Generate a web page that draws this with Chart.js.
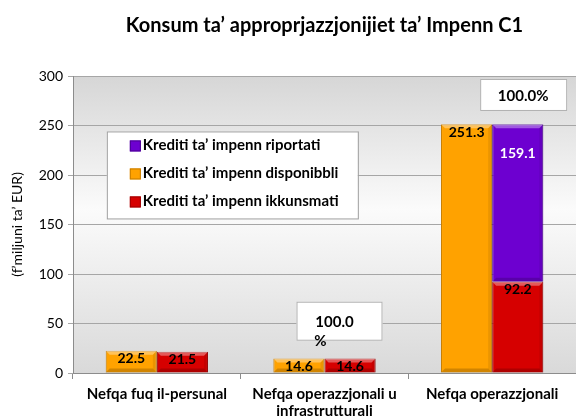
<!DOCTYPE html>
<html>
<head>
<meta charset="utf-8">
<script src="https://cdn.jsdelivr.net/npm/chart.js@4.4.1/dist/chart.umd.min.js"></script>
<style>
  html, body { margin: 0; padding: 0; background: #fff; }
  #wrap { width: 576px; height: 418px; }
</style>
</head>
<body>
<div id="wrap"><canvas id="myChart" width="576" height="418"></canvas></div>
<script>
var categories = ["Nefqa fuq il-persunal", ["Nefqa operazzjonali u", "infrastrutturali"], "Nefqa operazzjonali"]
var disponibbli = [22.5, 14.6, 251.3]
var ikkunsmati = [21.5, 14.6, 92.2]
var riportati = [0, 0, 159.1]
var yTicks = [0, 50, 100, 150, 200, 250, 300]
var notes = ["100.0%", "100.0%"]

var FONT = "Lato, 'Open Sans', sans-serif"

// plot background: grey at the edges, lighter in the middle
var plotBackground = {
	id: 'plotBackground',
	beforeDraw: function(chart) {
		var ctx = chart.ctx, a = chart.chartArea
		var g = ctx.createLinearGradient(0, a.top, 0, a.bottom)
		g.addColorStop(0, '#d6d6d6')
		g.addColorStop(0.45, '#fbfbfb')
		g.addColorStop(1, '#d9d9d9')
		ctx.save()
		ctx.fillStyle = g
		ctx.fillRect(a.left, a.top, a.right - a.left, a.bottom - a.top)
		ctx.restore()
	}
}

// bevel look on the bars + value labels at the top of each bar
var valueLabels = {
	id: 'valueLabels',
	afterDatasetsDraw: function(chart) {
		var ctx = chart.ctx
		ctx.save()
		chart.data.datasets.forEach(function(ds, i) {
			chart.getDatasetMeta(i).data.forEach(function(bar, j) {
				if (!ds.data[j]) return
				var l = bar.x - bar.width / 2, r = bar.x + bar.width / 2
				var t = Math.min(bar.y, bar.base), b = Math.max(bar.y, bar.base)
				var e = Math.min(4, (b - t) / 2)
				ctx.fillStyle = 'rgba(255,255,255,0.35)'
				ctx.beginPath(); ctx.moveTo(l, t); ctx.lineTo(r, t); ctx.lineTo(r - e, t + e); ctx.lineTo(l + e, t + e); ctx.closePath(); ctx.fill()
				ctx.fillStyle = 'rgba(0,0,0,0.18)'
				ctx.beginPath(); ctx.moveTo(l, b); ctx.lineTo(r, b); ctx.lineTo(r - e, b - e); ctx.lineTo(l + e, b - e); ctx.closePath(); ctx.fill()
				ctx.fillStyle = 'rgba(0,0,0,0.08)'
				ctx.beginPath(); ctx.moveTo(r, t); ctx.lineTo(r, b); ctx.lineTo(r - e, b - e); ctx.lineTo(r - e, t + e); ctx.closePath(); ctx.fill()
			})
		})
		ctx.font = "bold 14px " + FONT
		ctx.textAlign = 'center'
		ctx.textBaseline = 'middle'
		chart.data.datasets.forEach(function(ds, i) {
			if (!ds.showValues) return
			chart.getDatasetMeta(i).data.forEach(function(bar, j) {
				var v = ds.data[j]
				if (!v) return
				ctx.fillStyle = ds.valueColor
				ctx.fillText(v.toFixed(1), bar.x, bar.y + ds.valueOffset)
			})
		})
		ctx.restore()
	}
}

// legend box and the two note boxes inside the plot
var boxes = {
	id: 'boxes',
	afterDraw: function(chart) {
		var ctx = chart.ctx, x = chart.scales.x, y = chart.scales.y
		ctx.save()
		ctx.font = "bold 15px " + FONT
		ctx.textBaseline = 'middle'

		// legend
		var lx = x.getPixelForValue(0) - 50, ly = y.getPixelForValue(244)
		ctx.fillStyle = '#fff'
		ctx.fillRect(lx, ly, 251, 87)
		ctx.strokeStyle = '#a0a0a0'
		ctx.lineWidth = 1
		ctx.strokeRect(lx + 0.5, ly + 0.5, 251, 87)
		var order = [2, 0, 1]
		order.forEach(function(k, r) {
			var ds = chart.data.datasets[k]
			var ry = ly + 14 + r * 28
			ctx.fillStyle = ds.backgroundColor
			ctx.fillRect(lx + 23, ry - 5, 11, 11)
			ctx.strokeStyle = ds.borderColor
			ctx.strokeRect(lx + 23.5, ry - 4.5, 10, 10)
			ctx.fillStyle = '#000'
			ctx.textAlign = 'left'
			ctx.fillText(ds.label, lx + 36, ry)
		})

		// note boxes
		ctx.textAlign = 'center'
		ctx.strokeStyle = '#b0b0b0'
		var n1x = x.getPixelForValue(2) - 12, n1y = y.getPixelForValue(297)
		ctx.fillStyle = '#fff'
		ctx.fillRect(n1x, n1y, 87, 32)
		ctx.strokeRect(n1x + 0.5, n1y + 0.5, 86, 31)
		ctx.fillStyle = '#000'
		ctx.fillText(notes[0], n1x + 43, n1y + 17)

		var n2x = x.getPixelForValue(1) - 28, n2y = y.getPixelForValue(72)
		ctx.fillStyle = '#fff'
		ctx.fillRect(n2x, n2y, 86, 39)
		ctx.strokeRect(n2x + 0.5, n2y + 0.5, 85, 38)
		ctx.fillStyle = '#000'
		ctx.fillText(notes[1].slice(0, 5), n2x + 38, n2y + 20)
		ctx.fillText(notes[1].slice(5), n2x + 24, n2y + 39)
		ctx.restore()
	}
}

var canvasCtx = document.getElementById("myChart").getContext('2d')
var myChart = new Chart(canvasCtx, {
	type: 'bar',
	data: {
		labels: categories,
		datasets: [
			{label: "Krediti ta\u2019 impenn disponibbli", data: disponibbli, stack: 'a', backgroundColor: '#ffa200', borderColor: '#c77d00', borderWidth: 1, showValues: true, valueColor: '#000', valueOffset: 8},
			{label: "Krediti ta\u2019 impenn ikkunsmati", data: ikkunsmati, stack: 'b', backgroundColor: '#d60000', borderColor: '#9c0000', borderWidth: 1, showValues: true, valueColor: '#000', valueOffset: 8},
			{label: "Krediti ta\u2019 impenn riportati", data: riportati, stack: 'b', backgroundColor: '#6d00d0', borderColor: '#4a0090', borderWidth: 1, showValues: true, valueColor: '#fff', valueOffset: 29}
		]
	},
	options: {
		responsive: false,
		maintainAspectRatio: false,
		animation: false,
		layout: {padding: {left: 0, right: 0, top: 0, bottom: 0}},
		datasets: {bar: {categoryPercentage: 0.61, barPercentage: 1.0}},
		plugins: {
			legend: {display: false},
			tooltip: {enabled: false},
			title: {
				display: true,
				fullSize: false,
				text: "Konsum ta\u2019 approprjazzjonijiet ta\u2019 Impenn C1",
				color: '#000',
				font: {family: FONT, size: 20, weight: 'bold'},
				padding: {top: 14, bottom: 38}
			}
		},
		scales: {
			x: {
				stacked: true,
				afterFit: function(s) { s.height = 45 },
				grid: {display: true, drawOnChartArea: false, offset: true, color: '#8c8c8c', tickLength: 6},
				border: {color: '#8c8c8c'},
				ticks: {color: '#000', font: {family: FONT, size: 15, weight: 'bold', lineHeight: 1.1}, padding: 7, maxRotation: 0}
			},
			y: {
				stacked: true,
				min: 0, max: 300,
				afterBuildTicks: function(s) { s.ticks = yTicks.map(function(v) { return {value: v} }) },
				afterFit: function(s) { s.width = 73 },
				grid: {color: '#a6a6a6', tickLength: 5},
				border: {color: '#8c8c8c'},
				ticks: {color: '#000', font: {family: FONT, size: 14}, padding: 5},
				title: {display: true, text: "(f\u2019miljuni ta\u2019 EUR)", color: '#000', font: {family: FONT, size: 14}, padding: {top: 9, bottom: 0}}
			}
		}
	},
	plugins: [plotBackground, valueLabels, boxes]
})
</script>
</body>
</html>
